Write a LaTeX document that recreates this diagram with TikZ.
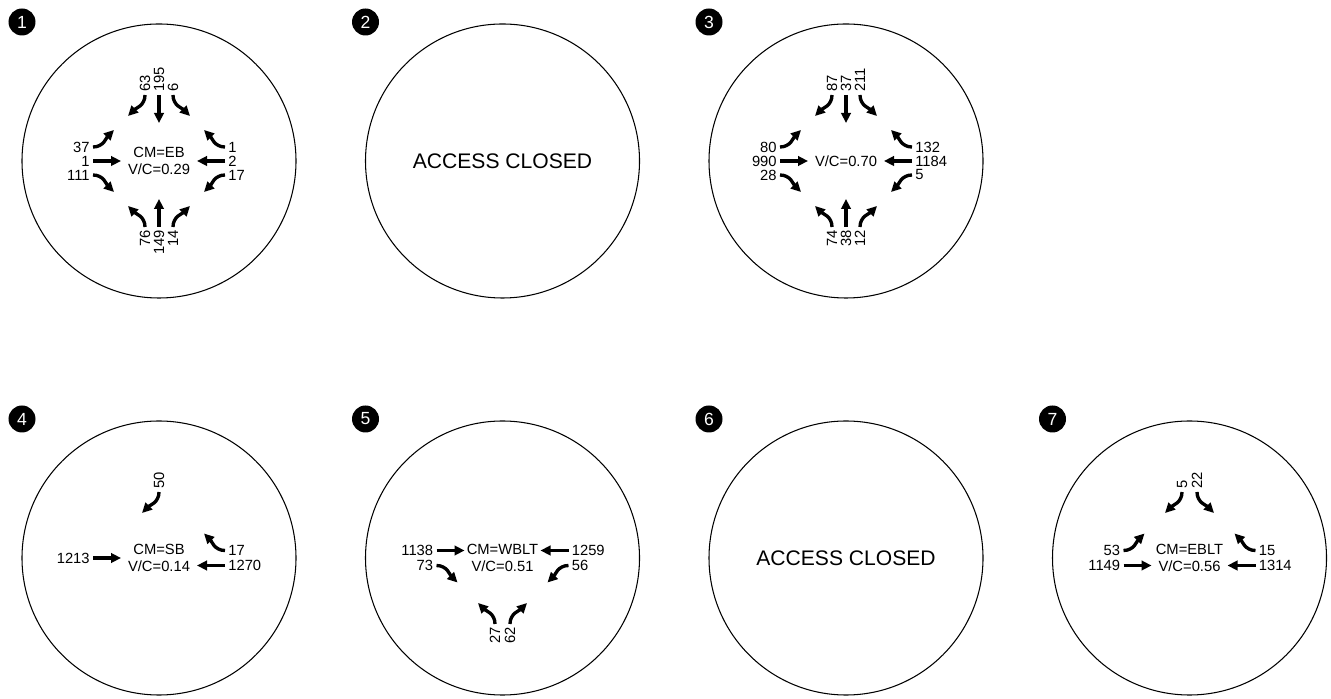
\documentclass[tikz,border=0pt]{standalone}
\usepackage{fontspec}
\setmainfont{Liberation Sans}
\usetikzlibrary{arrows.meta}

% one approach leg: #1 circle node, #2 side (N/W/S/E), #3 list lateral/turn/volume
\newcommand{\approachleg}[3]{%
  \begin{scope}[shift={(#1.center)}, leg#2]
    \foreach \lat/\turn/\vol [count=\k] in {#3} {
      \ifnum\turn=0
        \draw[move] (\lat,66) -- (\lat,38);
      \else
        \pgfmathsetmacro{\inang}{90+45*\turn}
        \draw[move] (\lat,66) to[out=-90, in=\inang] ({\lat+17*\turn},45);
      \fi
      \node[vol, lbl#2] (#1#2\k) at (\lat,69) {\vol};
    }
  \end{scope}}

\begin{document}
\begin{tikzpicture}[
    x=0.2mm, y=0.2mm,
    every node/.style={font=\fontsize{8.4}{9.2}\selectfont},
    ring/.style={circle, draw, line width=0.6pt, minimum size=54.8mm, inner sep=0pt, align=center},
    closed/.style={font=\fontsize{12}{14}\selectfont},
    tag/.style={circle, fill=black, text=white, minimum size=5.4mm, inner sep=0pt, font=\fontsize{10}{12}\selectfont},
    move/.style={line width=1.9pt, -{Triangle[length=2mm, width=1.9mm]}},
    vol/.style={inner sep=0pt},
    legN/.style={rotate=0}, legW/.style={rotate=90},
    legS/.style={rotate=180}, legE/.style={rotate=-90},
    lblN/.style={rotate=90, anchor=west}, lblW/.style={anchor=east},
    lblS/.style={rotate=90, anchor=east}, lblE/.style={anchor=west},
]
\useasboundingbox (0,0) rectangle (1331,698);

% =====================================================================
% Intersection circles
% =====================================================================
\node[ring] (c1) at (159,537) {CM=EB\\V/C=0.29};
\node[ring, closed] (c2) at (502.5,537) {ACCESS CLOSED};
\node[ring] (c3) at (846,537) {V/C=0.70};
\node[ring] (c4) at (159,140) {CM=SB\\V/C=0.14};
\node[ring] (c5) at (502.5,140) {CM=WBLT\\V/C=0.51};
\node[ring, closed] (c6) at (846,140) {ACCESS CLOSED};
\node[ring] (c7) at (1189.5,140) {CM=EBLT\\V/C=0.56};

% numbered markers
\foreach \i/\x/\y in {1/22/676, 2/365.5/676, 3/709/676,
                      4/22/279, 5/365.5/279, 6/709/279, 7/1052.5/279}
    \node[tag] (n\i) at (\x,\y) {\i};

% =====================================================================
% Turning movement volumes
% =====================================================================
% intersection 1
\approachleg{c1}{N}{-14/-1/63, 0/0/195, 14/1/6}
\approachleg{c1}{W}{14/1/37, 0/0/1, -14/-1/111}
\approachleg{c1}{S}{14/1/76, 0/0/149, -14/-1/14}
\approachleg{c1}{E}{-14/-1/1, 0/0/2, 14/1/17}

% intersection 3
\approachleg{c3}{N}{-14/-1/87, 0/0/37, 14/1/211}
\approachleg{c3}{W}{14/1/80, 0/0/990, -14/-1/28}
\approachleg{c3}{S}{14/1/74, 0/0/38, -14/-1/12}
\approachleg{c3}{E}{-14/-1/132, 0/0/1184, 14/1/5}

% intersection 4
\approachleg{c4}{N}{0/-1/50}
\approachleg{c4}{W}{0/0/1213}
\approachleg{c4}{E}{-7.5/-1/17, 7.5/0/1270}

% intersection 5
\approachleg{c5}{W}{7.5/0/1138, -7.5/-1/73}
\approachleg{c5}{E}{-7.5/0/1259, 7.5/1/56}
\approachleg{c5}{S}{7.5/1/27, -7.5/-1/62}

% intersection 7
\approachleg{c7}{N}{-7.5/-1/5, 7.5/1/22}
\approachleg{c7}{W}{7.5/1/53, -7.5/0/1149}
\approachleg{c7}{E}{-7.5/-1/15, 7.5/0/1314}

\end{tikzpicture}
\end{document}
